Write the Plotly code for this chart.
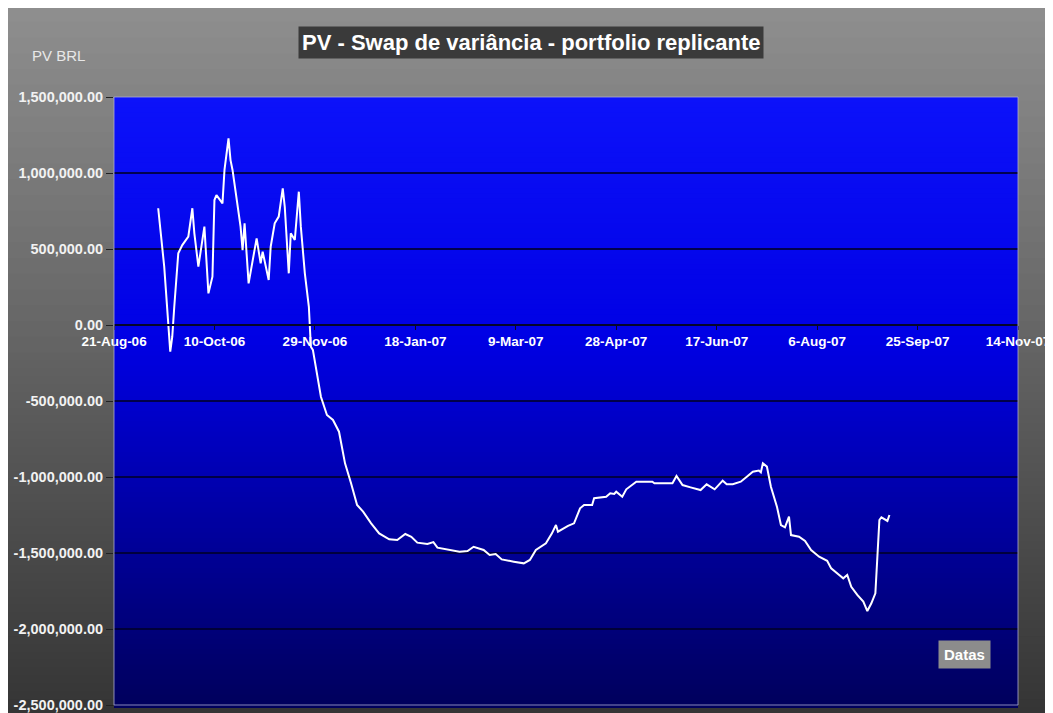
import plotly.graph_objects as go

# PV of the replicating portfolio (BRL)
dates = [
    "2006-09-12", "2006-09-14", "2006-09-15", "2006-09-18", "2006-09-19", "2006-09-20",
    "2006-09-22", "2006-09-24", "2006-09-27", "2006-09-29", "2006-09-30", "2006-10-02",
    "2006-10-04", "2006-10-05", "2006-10-07", "2006-10-09", "2006-10-10", "2006-10-11",
    "2006-10-14", "2006-10-15", "2006-10-17", "2006-10-18", "2006-10-19", "2006-10-21",
    "2006-10-23", "2006-10-24", "2006-10-25", "2006-10-27", "2006-10-29", "2006-10-31",
    "2006-11-02", "2006-11-03", "2006-11-06", "2006-11-07", "2006-11-09", "2006-11-11",
    "2006-11-13", "2006-11-14", "2006-11-16", "2006-11-17", "2006-11-19", "2006-11-21",
    "2006-11-22", "2006-11-24", "2006-11-26", "2006-11-27", "2006-11-28", "2006-11-30",
    "2006-12-02", "2006-12-05", "2006-12-08", "2006-12-11", "2006-12-14", "2006-12-17",
    "2006-12-20", "2006-12-23", "2006-12-27", "2006-12-31", "2007-01-05", "2007-01-09",
    "2007-01-13", "2007-01-16", "2007-01-19", "2007-01-24", "2007-01-27", "2007-01-29",
    "2007-02-04", "2007-02-09", "2007-02-13", "2007-02-16", "2007-02-21", "2007-02-24",
    "2007-02-27", "2007-03-02", "2007-03-08", "2007-03-13", "2007-03-16", "2007-03-19",
    "2007-03-24", "2007-03-27", "2007-03-29", "2007-03-30", "2007-04-04", "2007-04-07",
    "2007-04-10", "2007-04-12", "2007-04-16", "2007-04-17", "2007-04-23", "2007-04-25",
    "2007-04-27", "2007-04-28", "2007-05-01", "2007-05-03", "2007-05-08", "2007-05-16",
    "2007-05-17", "2007-05-26", "2007-05-28", "2007-05-31", "2007-06-04", "2007-06-09",
    "2007-06-12", "2007-06-16", "2007-06-20", "2007-06-22", "2007-06-25", "2007-06-29",
    "2007-07-02", "2007-07-05", "2007-07-08", "2007-07-09", "2007-07-10", "2007-07-12",
    "2007-07-14", "2007-07-17", "2007-07-19", "2007-07-21", "2007-07-23", "2007-07-24",
    "2007-07-28", "2007-07-31", "2007-08-03", "2007-08-07", "2007-08-11", "2007-08-13",
    "2007-08-17", "2007-08-19", "2007-08-21", "2007-08-23", "2007-08-26", "2007-08-29",
    "2007-08-31", "2007-09-02", "2007-09-04", "2007-09-05", "2007-09-06", "2007-09-07",
    "2007-09-09", "2007-09-10", "2007-09-11",
]
pv_brl = [
    768000, 493000, 384000, -175000, -77000, 120000,
    472000, 526000, 581000, 768000, 603000, 384000,
    559000, 647000, 208000, 318000, 822000, 855000,
    800000, 1020000, 1228000, 1085000, 1020000, 844000,
    647000, 493000, 669000, 274000, 428000, 570000,
    406000, 482000, 296000, 515000, 669000, 713000,
    899000, 778000, 340000, 603000, 559000, 877000,
    647000, 340000, 120000, -143000, -164000, -318000,
    -472000, -592000, -625000, -702000, -910000, -1041000,
    -1184000, -1228000, -1305000, -1371000, -1410000, -1415000,
    -1375000, -1393000, -1432000, -1441000, -1428000, -1465000,
    -1480000, -1491000, -1487000, -1459000, -1480000, -1513000,
    -1507000, -1542000, -1557000, -1568000, -1546000, -1480000,
    -1436000, -1371000, -1316000, -1360000, -1322000, -1305000,
    -1206000, -1184000, -1184000, -1140000, -1130000, -1107000,
    -1112000, -1097000, -1130000, -1081000, -1031000, -1031000,
    -1041000, -1041000, -993000, -1053000, -1068000, -1086000,
    -1048000, -1081000, -1024000, -1048000, -1048000, -1031000,
    -998000, -965000, -958000, -970000, -910000, -932000,
    -1064000, -1195000, -1316000, -1331000, -1261000, -1382000,
    -1393000, -1421000, -1480000, -1524000, -1551000, -1601000,
    -1645000, -1667000, -1645000, -1722000, -1776000, -1820000,
    -1882000, -1831000, -1765000, -1500000, -1283000, -1265000,
    -1283000, -1289000, -1250000,
]

x_tick_dates = [
    "2006-08-21", "2006-10-10", "2006-11-29", "2007-01-18", "2007-03-09",
    "2007-04-28", "2007-06-17", "2007-08-06", "2007-09-25", "2007-11-14",
]
x_tick_labels = [
    "21-Aug-06", "10-Oct-06", "29-Nov-06", "18-Jan-07", "9-Mar-07",
    "28-Apr-07", "17-Jun-07", "6-Aug-07", "25-Sep-07", "14-Nov-07",
]
y_tick_values = [1500000, 1000000, 500000, 0, -500000, -1000000, -1500000, -2000000, -2500000]
y_tick_labels = [
    "1,500,000.00", "1,000,000.00", "500,000.00", "0.00", "-500,000.00",
    "-1,000,000.00", "-1,500,000.00", "-2,000,000.00", "-2,500,000.00",
]

title_text = "PV - Swap de variância - portfolio replicante"
y_title = "PV BRL"
x_title = "Datas"

# The page puts the figure 8px in from the top-left corner (body margin),
# so all page positions below get shifted by OFFSET
OFFSET = 8
PAGE_W, PAGE_H = 1053, 713
W, H = PAGE_W - OFFSET, PAGE_H - OFFSET
# plot area in page pixels
PLOT_L, PLOT_R, PLOT_T, PLOT_B = 114, 1018, 97, 705
FONT = "Arial, 'Liberation Sans', sans-serif"


def to_paper_x(px):
    return (px - PLOT_L) / (PLOT_R - PLOT_L)


def to_paper_y(py):
    return (PLOT_B - py) / (PLOT_B - PLOT_T)


def _lerp(stops, f):
    # stops: list of (fraction, (r, g, b)), fraction 0 = top
    for (f0, c0), (f1, c1) in zip(stops, stops[1:]):
        if f0 <= f <= f1:
            t = (f - f0) / (f1 - f0) if f1 > f0 else 0
            return "rgb(%d,%d,%d)" % tuple(round(a + (b - a) * t) for a, b in zip(c0, c1))
    return "rgb(%d,%d,%d)" % stops[-1][1]


def gradient_bands(x0, x1, y_top, y_bottom, stops, n, xref, yref):
    """Stack of thin rectangles faking a vertical gradient"""
    shapes = []
    step = (y_top - y_bottom) / n
    for i in range(n):
        top = y_top - i * step
        shapes.append(dict(
            type="rect", xref=xref, yref=yref, layer="below",
            x0=x0, x1=x1, y0=top - step * 1.6, y1=top,
            fillcolor=_lerp(stops, (i + 0.5) / n),
            line=dict(width=0),
        ))
    return shapes


gray_stops = [(0.0, (143, 143, 143)), (0.5, (98, 98, 98)), (1.0, (52, 52, 52))]
blue_stops = [(0.0, (12, 18, 250)), (0.4, (0, 0, 228)), (0.8, (0, 0, 138)), (1.0, (0, 0, 92))]

shapes = gradient_bands(to_paper_x(OFFSET), to_paper_x(PAGE_W + 2), to_paper_y(OFFSET - 2),
                        to_paper_y(PAGE_H + 2), gray_stops, 90, "paper", "paper")
shapes += gradient_bands(0, 1, 1, 0, blue_stops, 120, "x domain", "y domain")
# light frame round the plot area
shapes.append(dict(type="rect", xref="x domain", yref="y domain", layer="above",
                   x0=0, x1=1, y0=0, y1=1, line=dict(color="rgba(170,170,210,0.8)", width=1)))

fig = go.Figure()
fig.add_trace(go.Scatter(
    x=dates, y=pv_brl, mode="lines",
    line=dict(color="white", width=2),
    showlegend=False,
))

fig.update_layout(
    width=W, height=H,
    margin=dict(l=PLOT_L - OFFSET, r=PAGE_W - PLOT_R, t=PLOT_T - OFFSET, b=PAGE_H - PLOT_B),
    paper_bgcolor="white",
    plot_bgcolor="rgba(0,0,0,0)",
    font=dict(family=FONT, color="white"),
    shapes=shapes,
    showlegend=False,
)

# x axis sits on the zero line, like the Excel original
fig.update_xaxes(
    type="date",
    range=[x_tick_dates[0], x_tick_dates[-1]],
    tickvals=x_tick_dates, ticktext=x_tick_labels,
    tickfont=dict(size=13.5, color="white", weight="bold", family=FONT),
    ticklabeloverflow="allow",
    anchor="free",
    position=(0 - y_tick_values[-1]) / (y_tick_values[0] - y_tick_values[-1]),
    showline=True, linecolor="#05052a", linewidth=2,
    ticks="outside", ticklen=4, tickcolor="#05052a",
    showgrid=False, zeroline=False, automargin=False,
)
fig.update_yaxes(
    range=[y_tick_values[-1], y_tick_values[0]],
    tickvals=y_tick_values, ticktext=y_tick_labels,
    tickfont=dict(size=14.5, color="#f2f2f2", weight="bold", family=FONT),
    ticklabeloverflow="allow",
    showgrid=True, gridcolor="rgba(0,0,40,0.8)", gridwidth=2,
    ticks="outside", ticklen=7, tickcolor="#222222",
    zeroline=False, showline=False, automargin=False,
)

fig.add_annotation(
    text=title_text, xref="paper", yref="paper",
    x=to_paper_x(531), y=to_paper_y(43), xanchor="center", yanchor="middle",
    showarrow=False, bgcolor="#3a3a3a", borderpad=3,
    font=dict(size=22, color="white", weight="bold", family=FONT),
)
fig.add_annotation(
    text=y_title, xref="paper", yref="paper",
    x=to_paper_x(58), y=to_paper_y(55), xanchor="center", yanchor="middle",
    showarrow=False, font=dict(size=15, color="#e8e8e8", family=FONT),
)
fig.add_annotation(
    text=x_title, xref="paper", yref="paper",
    x=to_paper_x(964), y=to_paper_y(654), xanchor="center", yanchor="middle",
    showarrow=False, bgcolor="#8c8c8c", borderpad=5,
    font=dict(size=15, color="white", weight="bold", family=FONT),
)

fig.write_html("out.html")
